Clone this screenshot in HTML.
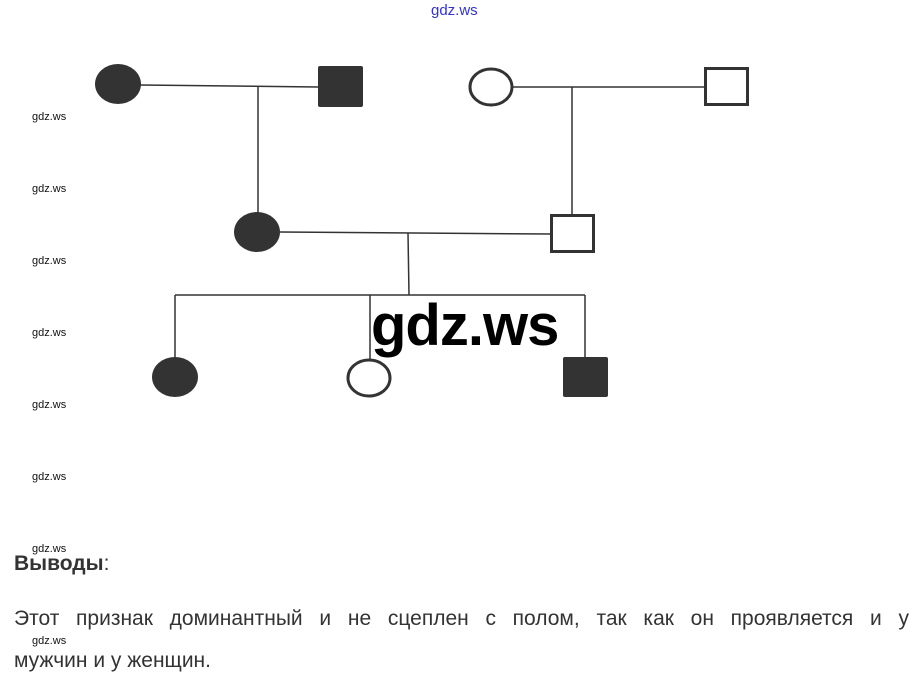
<!DOCTYPE html>
<html><head><meta charset="utf-8"><style>
html,body{margin:0;padding:0;background:#fff;}
body{width:917px;height:682px;overflow:hidden;position:relative;font-family:"Liberation Sans",sans-serif;}
.t{position:absolute;color:#333;}
.wm{position:absolute;left:32px;font-size:11px;color:#111;font-family:"Liberation Sans",sans-serif;}
</style></head><body>
<svg width="917" height="682" style="position:absolute;left:0;top:0">
<g stroke="#333" stroke-width="1.5" fill="none">
<line x1="140" y1="85" x2="318" y2="87"/>
<line x1="258" y1="86" x2="258" y2="213"/>
<line x1="513" y1="87" x2="704" y2="87"/>
<line x1="572" y1="87" x2="572" y2="214"/>
<line x1="280" y1="232" x2="550" y2="234"/>
<line x1="408" y1="233" x2="409" y2="295"/>
<line x1="175" y1="295" x2="585" y2="295"/>
<line x1="175" y1="295" x2="175" y2="358"/>
<line x1="370" y1="295" x2="370" y2="359"/>
<line x1="585" y1="295" x2="585" y2="357"/>
</g>
<ellipse cx="118" cy="84" rx="23" ry="20" fill="#333"/>
<rect x="318" y="66" width="45" height="41" rx="2" fill="#333"/>
<ellipse cx="491" cy="87" rx="21" ry="18" fill="none" stroke="#333" stroke-width="3"/>
<rect x="705.5" y="68.5" width="42" height="36" fill="none" stroke="#333" stroke-width="3"/>
<ellipse cx="257" cy="232" rx="23" ry="20" fill="#333"/>
<rect x="551.5" y="215.5" width="42" height="36" fill="none" stroke="#333" stroke-width="3"/>
<ellipse cx="175" cy="377" rx="23" ry="20" fill="#333"/>
<ellipse cx="369" cy="378" rx="21" ry="18" fill="none" stroke="#333" stroke-width="3"/>
<rect x="563" y="357" width="45" height="40" rx="2" fill="#333"/>
</svg>
<div style="position:absolute;left:431px;top:2px;font-size:15px;color:#3333cc;">gdz.ws</div>
<div style="position:absolute;left:371px;top:291px;font-size:58px;font-weight:bold;color:#000;line-height:70px;font-family:'Liberation Sans',sans-serif;letter-spacing:-1px;">gdz.ws</div>
<div class="wm" style="top:111px">gdz.ws</div>
<div class="wm" style="top:183px">gdz.ws</div>
<div class="wm" style="top:255px">gdz.ws</div>
<div class="wm" style="top:327px">gdz.ws</div>
<div class="wm" style="top:399px">gdz.ws</div>
<div class="wm" style="top:471px">gdz.ws</div>
<div class="wm" style="top:543px">gdz.ws</div>
<div class="wm" style="top:635px">gdz.ws</div>
<div class="t" style="left:14px;top:552px;font-size:21px;font-weight:bold;">Выводы<span style="font-weight:normal">:</span></div>
<div class="t" style="left:14px;top:607px;font-size:21px;width:895px;text-align:justify;text-align-last:justify;">Этот признак доминантный и не сцеплен с полом, так как он проявляется и у</div>
<div class="t" style="left:14px;top:649px;font-size:21px;">мужчин и у женщин.</div>
</body></html>
